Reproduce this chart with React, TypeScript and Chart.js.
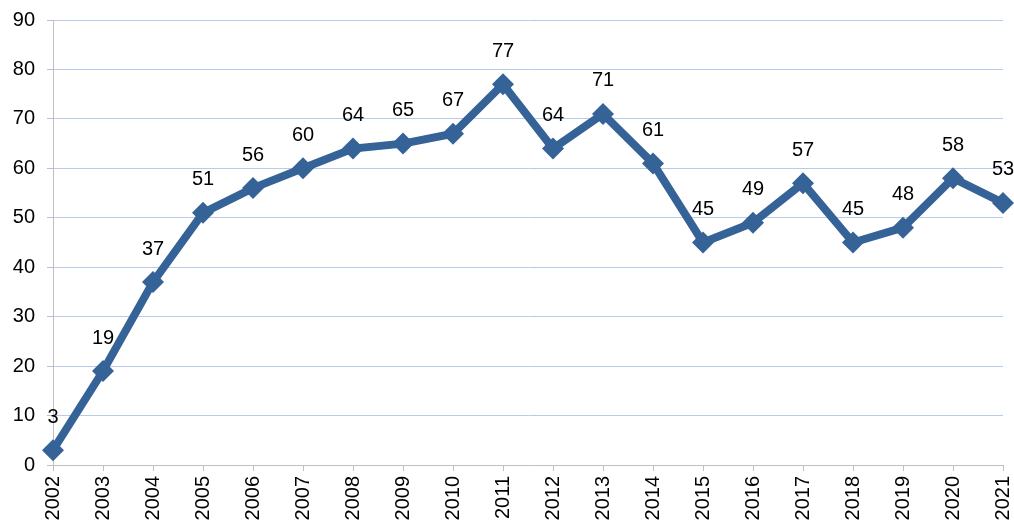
import React, { useEffect, useRef } from "react";
import { Chart, registerables } from "chart.js";

Chart.register(...registerables);

const years = ["2002","2003","2004","2005","2006","2007","2008","2009","2010","2011","2012","2013","2014","2015","2016","2017","2018","2019","2020","2021"];
const values = [3, 19, 37, 51, 56, 60, 64, 65, 67, 77, 64, 71, 61, 45, 49, 57, 45, 48, 58, 53];

const LINE_COLOR = "#366397";
const FONT = "'Liberation Sans', Arial, sans-serif";

const labelPlugin = {
  id: "valueLabels",
  afterDatasetsDraw(chart: any) {
    const ctx = chart.ctx;
    const meta = chart.getDatasetMeta(0);
    ctx.save();
    ctx.font = `20px ${FONT}`;
    ctx.fillStyle = "#000";
    ctx.textAlign = "center";
    ctx.textBaseline = "middle";
    meta.data.forEach((pt: any, i: number) => {
      ctx.fillText(String(values[i]), pt.x, pt.y - 33);
    });
    ctx.restore();
  },
};

export default function App() {
  const ref = useRef<HTMLCanvasElement>(null);
  useEffect(() => {
    const chart = new Chart(ref.current!, {
      type: "line",
      data: {
        labels: years,
        datasets: [
          {
            data: values,
            borderColor: LINE_COLOR,
            backgroundColor: LINE_COLOR,
            borderWidth: 8,
            pointStyle: "rectRot",
            pointRadius: 11,
            pointBorderWidth: 0,
            pointBackgroundColor: LINE_COLOR,
            tension: 0,
            clip: false,
          },
        ],
      },
      options: {
        animation: false,
        responsive: false,
        maintainAspectRatio: false,
        layout: { padding: { left: 0, right: 11, top: 20, bottom: 0 } },
        plugins: { legend: { display: false }, tooltip: { enabled: false } },
        scales: {
          x: {
            offset: false,
            grid: { drawOnChartArea: false, tickLength: 6, tickColor: "#bfbfbf" },
            border: { color: "#bfbfbf", width: 1 },
            ticks: {
              minRotation: 90,
              maxRotation: 90,
              padding: 5,
              color: "#000",
              font: { family: FONT, size: 20 },
            },
            afterFit(scale: any) {
              scale.height = 60;
              scale.paddingLeft = 0;
              scale.paddingRight = 0;
            },
          },
          y: {
            min: 0,
            max: 90,
            ticks: {
              stepSize: 10,
              padding: 12,
              color: "#000",
              font: { family: FONT, size: 20 },
            },
            grid: { color: "#b9cbea", lineWidth: 1, tickLength: 6, tickColor: "#bfbfbf" },
            border: { color: "#bfbfbf", width: 1 },
            afterFit(scale: any) {
              scale.width = 53;
              scale.paddingTop = 0;
              scale.paddingBottom = 0;
            },
          },
        },
      },
      plugins: [labelPlugin],
    });
    return () => chart.destroy();
  }, []);
  return (
    <div style={{ position: "absolute", left: 0, top: 0, width: 1014, height: 525, background: "#fff" }}>
      <canvas ref={ref} width={1014} height={525} style={{ width: 1014, height: 525 }} />
    </div>
  );
}
